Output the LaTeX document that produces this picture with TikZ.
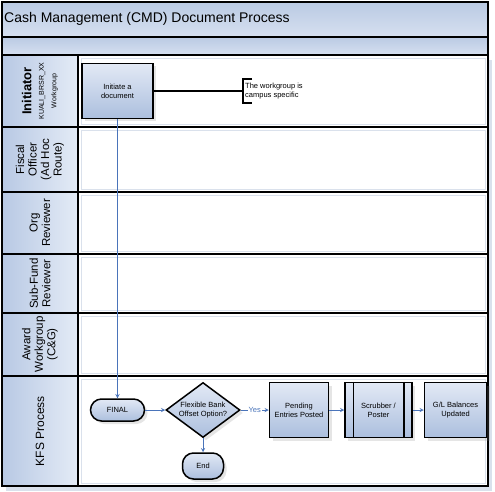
\documentclass[tikz,border=0pt]{standalone}
\usepackage{fontspec}
\setmainfont{Liberation Sans}
\usetikzlibrary{shapes, arrows}
\usetikzlibrary{positioning}
\usetikzlibrary{shapes.geometric, shadows}
\definecolor{bandblue}{RGB}{186,202,227}
\definecolor{bandlight}{RGB}{214,224,240}
\definecolor{headlight}{RGB}{228,235,246}
\definecolor{headblue}{RGB}{184,201,228}
\definecolor{boxlight}{RGB}{226,233,245}
\definecolor{boxblue}{RGB}{172,191,222}
\definecolor{flowblue}{RGB}{74,116,186}
\definecolor{lanegray}{RGB}{218,225,236}
\newcommand{\boxfont}{\fontsize{7.5}{9}\selectfont}
\tikzstyle{band} = [draw=black, line width=1.5pt, top color=bandblue, bottom color=bandlight]
\tikzstyle{lanehead} = [rectangle, draw=black, line width=1.5pt, left color=headblue, right color=headlight, text centered, align=center, inner sep=0pt, font=\fontsize{11.5}{12.5}\selectfont]
\tikzstyle{lanebody} = [draw=black, line width=1.5pt, fill=white]
\tikzstyle{process} = [rectangle, minimum height=55pt, text centered, align=center, draw=black, line width=1.5pt, top color=boxlight, bottom color=boxblue, font=\boxfont, drop shadow={opacity=0.2, shadow xshift=3pt, shadow yshift=-3pt}]
\tikzstyle{startstop} = [rectangle, rounded corners=11pt, minimum height=22pt, text centered, draw=black, line width=1.5pt, top color=boxlight, bottom color=boxblue, font=\boxfont, drop shadow={opacity=0.2, shadow xshift=3pt, shadow yshift=-3pt}]
\tikzstyle{decision} = [diamond, aspect=1.35, minimum width=74pt, minimum height=55pt, inner sep=0pt, text centered, align=center, draw=black, line width=1.5pt, top color=boxlight, bottom color=boxblue, font=\boxfont, drop shadow={opacity=0.2, shadow xshift=3pt, shadow yshift=-3pt}]
\tikzstyle{arrow} = [flowblue, line width=0.9pt, ->, >=stealth]

\begin{document}
\begin{tikzpicture}[x=1pt, y=-1pt]
    \useasboundingbox (0,0) rectangle (495,492);

    % Frame and lanes
    \fill[lanegray] (6,60) rectangle (492,491);
    \draw[band] (2,2) rectangle (488,37);
    \draw[band] (2,37) rectangle (488,55);
    \node (title) [anchor=west, font=\fontsize{14}{16}\selectfont, inner sep=0pt] at (4,19) {Cash Management (CMD) Document Process};
    \foreach \top/\bot/\name/\txt in {
        55/127/init/{\fontsize{13}{13.5}\selectfont\bfseries Initiator\\{\fontsize{7}{8}\selectfont KUALI\_BRSR\_XX}\\{\fontsize{7}{8}\selectfont Workgroup}},
        127/192/fiscal/{Fiscal\\Officer\\(Ad Hoc\\Route)},
        192/254/org/{Org\\Reviewer},
        254/313/subfund/{Sub-Fund\\Reviewer},
        313/376/award/{Award\\Workgroup\\(C\&G)},
        376/486/kfs/{\fontsize{12}{13}\selectfont KFS Process}} {
        \draw[lanebody] (78,\top) rectangle (488,\bot);
        \draw[lanegray, line width=0.8pt] (81,\top+3) rectangle (485,\bot-3);
        \node (h\name) [lanehead, rotate=90, minimum width={\bot-\top}, minimum height=76pt] at (40,{(\top+\bot)/2}) {\txt};
    }

    % Nodes
    \node (initiate) [process, minimum width=71pt] at (117.5,91) {Initiate a\\document};
    \node (note) [anchor=west, align=left, font=\boxfont, minimum height=24pt, inner sep=2pt] at (243,91) {The workgroup is\\campus specific};
    \node (final) [startstop, minimum width=54pt] at (117.5,410) {FINAL};
    \node (flexible) [decision, right=20pt of final] {Flexible Bank\\Offset Option?};
    \node (theend) [startstop, minimum width=41pt, minimum height=26pt, below=14pt of flexible] {End};
    \node (pending) [process, minimum width=59pt, right=28pt of flexible] {Pending\\Entries Posted};
    \node (scrubber) [process, minimum width=67pt, right=15pt of pending] {Scrubber /\\Poster};
    \node (balances) [process, minimum width=62pt, right=11pt of scrubber] {G/L Balances\\Updated};
    \draw[line width=1.5pt] ([xshift=9pt]scrubber.north west) -- ([xshift=9pt]scrubber.south west);
    \draw[line width=1.5pt] ([xshift=-9pt]scrubber.north east) -- ([xshift=-9pt]scrubber.south east);
    \draw[line width=2pt] ([xshift=9pt]note.north west) -- (note.north west) -- (note.south west) -- ([xshift=9pt]note.south west);

    % Arrows
    \draw[line width=1.5pt] (initiate.east) -- (note.west);
    \draw[arrow] (initiate) -- (final);
    \draw[arrow] (final) -- (flexible);
    \draw[arrow] (flexible) -- node[midway, fill=white, font=\boxfont, inner sep=1pt] {Yes} (pending);
    \draw[arrow] (flexible) -- (theend);
    \draw[arrow] (pending) -- (scrubber);
    \draw[arrow] (scrubber) -- (balances);

\end{tikzpicture}
\end{document}
